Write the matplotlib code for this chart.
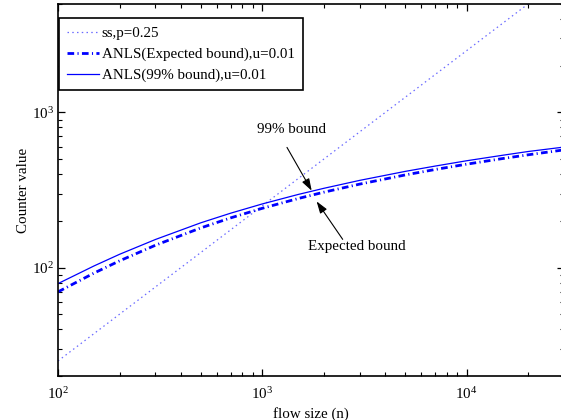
import numpy as np
import matplotlib
matplotlib.use('Agg')
import matplotlib.pyplot as plt
from matplotlib.ticker import LogLocator, NullFormatter

flow_size = [100, 150, 200, 300, 500, 700, 1000, 1500, 2000, 3000,
             5000, 7000, 10000, 15000, 20000, 30000]

# ss, p=0.25
ss_counter = [25, 37.5, 50, 75, 125, 175, 250, 375, 500, 750,
              1250, 1750, 2500, 3750, 5000, 7500]

# ANLS expected bound, u=0.01
anls_expected = [69.7, 92.1, 110.4, 139.3, 180.1, 209.0, 241.0, 278.7, 306.0, 345.1,
                 395.2, 428.4, 463.8, 504.2, 533.0, 573.6]

# ANLS 99% bound, u=0.01
anls_99 = [78.8, 102.4, 121.7, 151.7, 194.3, 224.1, 257.1, 296.0, 324.1, 364.8,
           416.6, 450.7, 487.9, 529.4, 559.7, 598.0]

legend_labels = ['ss,p=0.25', 'ANLS(Expected bound),u=0.01', 'ANLS(99% bound),u=0.01']

plt.rcParams['font.family'] = ['Liberation Serif', 'DejaVu Serif']
plt.rcParams['mathtext.fontset'] = 'stix'
plt.rcParams['font.size'] = 10.8


def draw_chart(save_path):
    fig = plt.figure(figsize=(5.61, 4.2), dpi=100)
    ax = fig.add_axes([0.1034, 0.1048, 0.902, 0.8857])

    # three curves
    ax.plot(flow_size, ss_counter, color='#6a6aff', lw=0.9,
            linestyle=(0, (1.2, 2.6)), label=legend_labels[0])
    ax.plot(flow_size, anls_expected, color='#0000ff', lw=2.0,
            linestyle=(0, (2.4, 1.2, 0.4, 1.2)), label=legend_labels[1])
    ax.plot(flow_size, anls_99, color='#0000ff', lw=0.9,
            linestyle='-', label=legend_labels[2])

    ax.set_xscale('log')
    ax.set_yscale('log')
    ax.set_xlim(100, 30000)
    ax.set_ylim(20, 5000)

    # minor ticks at 2..9 of every decade
    for axis in (ax.xaxis, ax.yaxis):
        axis.set_major_locator(LogLocator(base=10, numticks=10))
        axis.set_minor_locator(LogLocator(base=10, subs=np.arange(2, 10), numticks=50))
        axis.set_minor_formatter(NullFormatter())

    ax.set_xlabel('flow size (n)', labelpad=4)
    ax.set_ylabel('Counter value', labelpad=1)

    # matlab style ticks
    ax.tick_params(which='both', direction='in', top=True, right=True, color='black')
    ax.tick_params(which='major', length=5, width=0.9)
    ax.tick_params(which='minor', length=3, width=0.8)
    ax.tick_params(axis='x', which='major', pad=7)
    ax.tick_params(axis='y', which='major', pad=3)
    for sp in ax.spines.values():
        sp.set_linewidth(1.2)

    # arrows + text
    arrow_kw = dict(arrowstyle='-|>,head_length=0.6,head_width=0.2', color='black',
                    lw=0.8, mutation_scale=12, shrinkA=0, shrinkB=0)
    ax.annotate('', xy=(1745, 313), xytext=(1321, 595), arrowprops=arrow_kw)
    ax.text(1390, 778, '99% bound', ha='center', va='center')
    ax.annotate('', xy=(1845, 267), xytext=(2475, 152), arrowprops=arrow_kw)
    ax.text(2891, 136, 'Expected bound', ha='center', va='center')

    leg = ax.legend(loc='upper left', bbox_to_anchor=(0.002, 0.962),
                    fancybox=False, edgecolor='black', framealpha=1,
                    handlelength=2.1, handletextpad=0.2, borderpad=0.55,
                    labelspacing=0.5, borderaxespad=0)
    leg.get_frame().set_linewidth(1.2)

    fig.savefig(save_path, dpi=100)
    plt.close(fig)


if __name__ == "__main__":
    draw_chart('out.png')
